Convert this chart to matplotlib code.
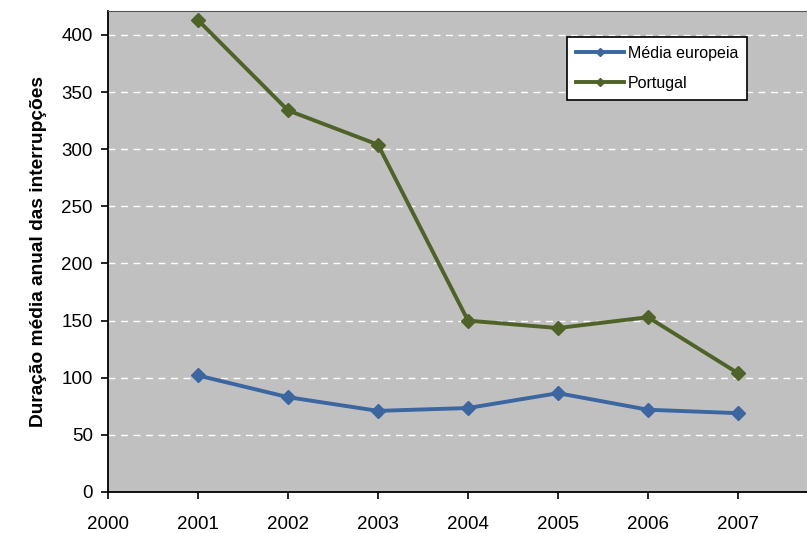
import matplotlib
matplotlib.use('Agg')
import matplotlib.pyplot as plt

# duracao media anual das interrupcoes (minutos)
years = [2001, 2002, 2003, 2004, 2005, 2006, 2007]
media_europeia = [102, 83, 71, 73.5, 86.5, 72, 69]
portugal = [413, 334, 304, 150, 143.5, 153, 104]
x_ticks = [2000, 2001, 2002, 2003, 2004, 2005, 2006, 2007]
y_ticks = [0, 50, 100, 150, 200, 250, 300, 350, 400]

plt.rcParams['font.family'] = ['Liberation Sans', 'DejaVu Sans']

fig = plt.figure(figsize=(8.07, 5.33), dpi=100)
ax = fig.add_axes([108/807, 41/533, 699/807, 481/533])
ax.set_facecolor('#c0c0c0')

ax.plot(years, media_europeia, color='#3b66a0', lw=2.8, marker='D', ms=7,
        label='Média europeia', zorder=3)
ax.plot(years, portugal, color='#4f6228', lw=2.8, marker='D', ms=7,
        label='Portugal', zorder=3)

ax.set_xlim(2000, 2000 + 699/90)
ax.set_ylim(0, 421)
ax.set_xticks(x_ticks)
ax.set_yticks(y_ticks)
ax.tick_params(labelsize=13.5, length=5, width=1.2, color='black')
ax.tick_params(axis='x', pad=12)
ax.tick_params(axis='y', pad=6)

for y in y_ticks[1:]:
    ax.axhline(y, color='white', lw=1, ls=(0, (5, 4)), zorder=1)

ax.spines['right'].set_visible(False)
ax.spines['left'].set_linewidth(1.3)
ax.spines['bottom'].set_linewidth(1.3)
ax.spines['top'].set_color('#555555')

ax.set_ylabel('Duração média anual das interrupções', fontsize=13.8,
              fontweight='bold', labelpad=10)

leg = ax.legend(loc='upper left', bbox_to_anchor=(459/699, 1 - 26/481),
                fontsize=11.5, frameon=True, fancybox=False, markerscale=0.6,
                handlelength=3.0, borderpad=0.55, labelspacing=0.95,
                handletextpad=0.25, borderaxespad=0)
leg.get_frame().set_edgecolor('black')
leg.get_frame().set_linewidth(1.2)
leg.get_frame().set_facecolor('white')
leg.get_frame().set_alpha(1)

fig.savefig('out.png', dpi=100)
